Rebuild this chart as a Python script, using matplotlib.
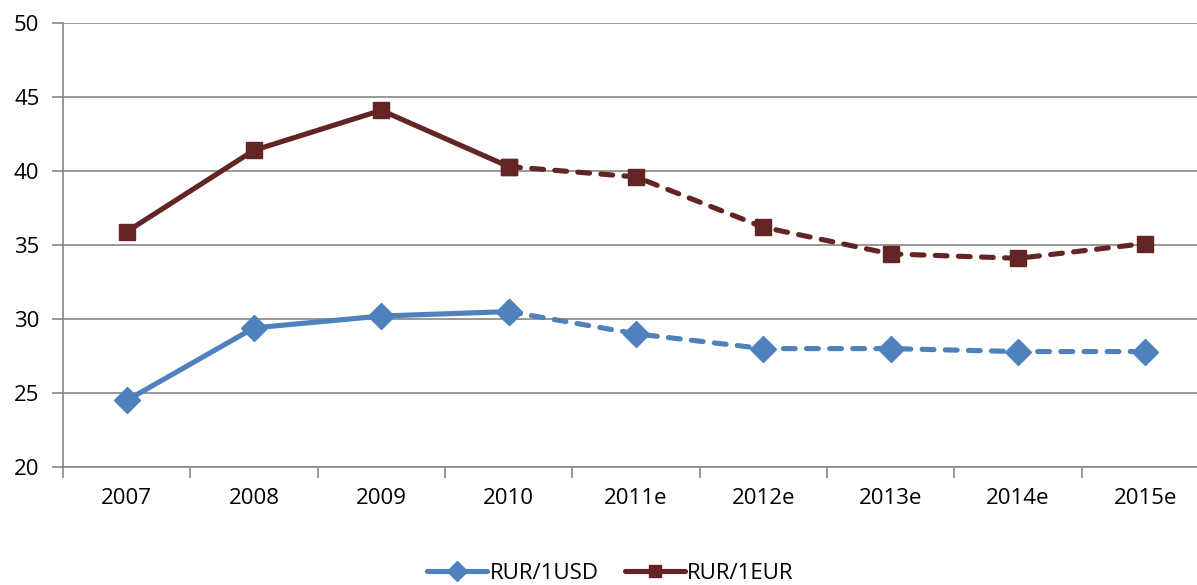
import matplotlib
matplotlib.use("Agg")
import matplotlib.pyplot as plt
from matplotlib.lines import Line2D
import numpy as np

years = ["2007", "2008", "2009", "2010", "2011e", "2012e", "2013e", "2014e", "2015e"]
usd = [24.5, 29.4, 30.2, 30.5, 29.0, 28.0, 28.0, 27.8, 27.8]
eur = [35.9, 41.4, 44.1, 40.3, 39.6, 36.2, 34.4, 34.1, 35.1]
n_actual = 4  # 2007..2010 are actual, rest are estimates

blue = "#4F81BD"
red = "#632523"
grey = "#868686"

plt.rcParams['font.family'] = ['Open Sans', 'DejaVu Sans']

fig = plt.figure(figsize=(11.97, 5.85), dpi=100)
ax = fig.add_axes([63 / 1197, 1 - 467 / 585, 1146 / 1197, 444 / 585])

x = np.arange(len(years))
dash = (0, (2.3, 2.2))
lw = 3.7

for vals, col, mk, ms in [(usd, blue, "D", 13), (eur, red, "s", 11)]:
    ax.plot(x[:n_actual], vals[:n_actual], color=col, lw=lw, marker=mk, ms=ms,
            solid_capstyle="round", zorder=3)
    ln, = ax.plot(x[n_actual - 1:], vals[n_actual - 1:], color=col, lw=lw,
                  linestyle=dash, marker=mk, ms=ms, zorder=3)
    ln.set_dash_capstyle("round")

ax.set_xlim(-0.5, len(years) - 0.5)
ax.set_ylim(20, 50)
ax.set_yticks(range(20, 51, 5))
ax.set_xticks(x)
ax.set_xticklabels(years)
ax.set_xticks(np.arange(-0.5, len(years), 1), minor=True)
ax.tick_params(axis="x", which="major", length=0, pad=15, labelsize=16)
ax.tick_params(axis="x", which="minor", length=8, color=grey, width=1.2)
ax.tick_params(axis="y", length=8, color=grey, width=1.2, pad=9, labelsize=16)

ax.grid(axis="y", color=grey, lw=1.2)
ax.set_axisbelow(True)
for s in ["top", "right"]:
    ax.spines[s].set_visible(False)
for s in ["left", "bottom"]:
    ax.spines[s].set_color(grey)
    ax.spines[s].set_linewidth(1.2)

handles = [
    Line2D([], [], color=blue, lw=lw, marker="D", ms=10, solid_capstyle="round"),
    Line2D([], [], color=red, lw=lw, marker="s", ms=9, solid_capstyle="round"),
]
fig.legend(handles, ["RUR/1USD", "RUR/1EUR"], loc="center", bbox_to_anchor=(0.51, 0.02),
           ncol=2, frameon=False, fontsize=16, handlelength=2.7, handletextpad=0.1,
           columnspacing=1.2)

fig.savefig("out.png", dpi=100)
